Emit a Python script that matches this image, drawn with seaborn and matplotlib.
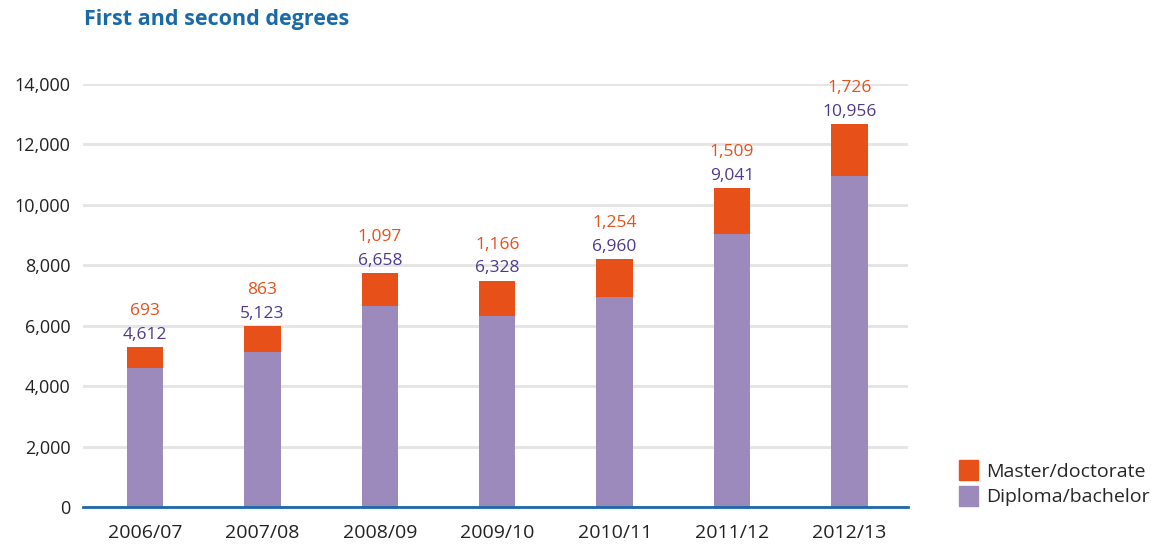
import matplotlib
matplotlib.use("Agg")
import matplotlib.pyplot as plt
import seaborn as sns
import pandas as pd
from matplotlib.patches import Patch

years = ["2006/07", "2007/08", "2008/09", "2009/10", "2010/11", "2011/12", "2012/13"]
diploma = [4612, 5123, 6658, 6328, 6960, 9041, 10956]
master = [693, 863, 1097, 1166, 1254, 1509, 1726]

ORANGE = "#e8501a"
PURPLE = "#9c8abc"
PURPLE_TXT = "#4e3a8c"
BLUE = "#1a6aa8"

sns.set_theme(style="white")
plt.rcParams['font.family'] = ['Open Sans', 'DejaVu Sans']

df = pd.DataFrame({"year": years, "diploma": diploma, "master": master})
df["total"] = df["diploma"] + df["master"]

fig = plt.figure(figsize=(11.51, 5.44), dpi=100)
ax = fig.add_axes([0.072, 0.068, 0.717, 0.7776])

sns.barplot(data=df, x="year", y="total", color=ORANGE, width=0.31, ax=ax,
            saturation=1, zorder=3, linewidth=0)
sns.barplot(data=df, x="year", y="diploma", color=PURPLE, width=0.31, ax=ax,
            saturation=1, zorder=4, linewidth=0)

for i, (d, m, t) in enumerate(zip(df["diploma"], df["master"], df["total"])):
    ax.annotate(f"{d:,}", (i, t), xytext=(0, 3), textcoords="offset points",
                ha="center", va="bottom", color=PURPLE_TXT, fontsize=12.5)
    ax.annotate(f"{m:,}", (i, t), xytext=(0, 20), textcoords="offset points",
                ha="center", va="bottom", color=ORANGE, fontsize=12.5)

ax.set_ylim(0, 14000)
ax.set_xlim(-0.53, 6.5)
ax.set_yticks(range(0, 14001, 2000))
ax.set_yticklabels([f"{v:,}" for v in range(0, 14001, 2000)], fontsize=13, color="#222222")
ax.tick_params(axis="x", labelsize=14, colors="#222222", length=0, pad=12)
ax.tick_params(axis="y", length=0, pad=9)
ax.set_xlabel("")
ax.set_ylabel("")
ax.grid(axis="y", color="#e4e4e4", linewidth=2, zorder=0)
ax.set_axisbelow(True)
for s in ["top", "right", "left"]:
    ax.spines[s].set_visible(False)
ax.spines["bottom"].set_color(BLUE)
ax.spines["bottom"].set_linewidth(2)
ax.spines["bottom"].set_zorder(5)

fig.text(0.073, 0.965, "First and second degrees", color=BLUE, fontsize=15.5,
         fontweight="bold", ha="left", va="center")

handles = [Patch(color=ORANGE, label="Master/doctorate"),
           Patch(color=PURPLE, label="Diploma/bachelor")]
fig.legend(handles=handles, loc="lower left", bbox_to_anchor=(0.826, 0.055),
           frameon=False, fontsize=14, handlelength=1.0, handleheight=1.2,
           handletextpad=0.4, labelspacing=0.25, borderaxespad=0)

fig.savefig("out.png", dpi=100)
